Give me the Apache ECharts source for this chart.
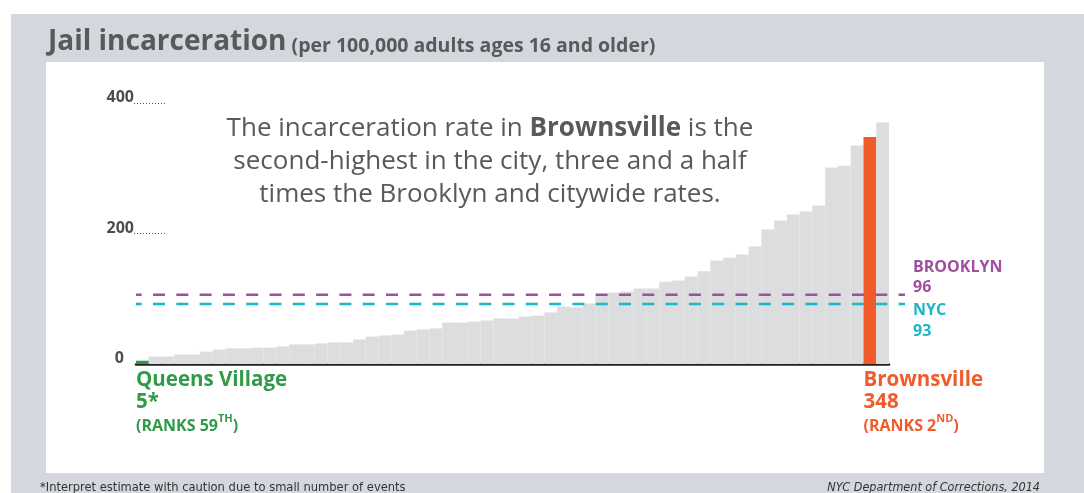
<!DOCTYPE html>
<html><head><meta charset="utf-8">
<script src="https://cdn.jsdelivr.net/npm/echarts@6/dist/echarts.min.js"></script>
<style>html,body{margin:0;padding:0;background:#fff}#c{width:1084px;height:493px}</style>
</head><body><div id="c"></div>
<script>
// ---- data ----
const rankLabels = ['59','58','57','56','55','54','53','52','51','50','49','48','47','46','45','44','43','42','41','40','39','38','37','36','35','34','33','32','31','30','29','28','27','26','25','24','23','22','21','20','19','18','17','16','15','14','13','12','11','10','9','8','7','6','5','4','3','2','1'];
const rates = [5,11.5,11.5,14.5,14.5,19,22,24,24,25,25,27,30,30,31.5,33,33,37.5,42,43.7,45,51,53,54.5,63.5,63.5,65,66.7,69.7,69.7,72.8,74,79,88,86.6,92.7,105,109.6,111,115.7,115.7,126,128,134,142,158.6,163,168,180,206,220,229,233.7,243,301,304,334.8,348,370];
const yTicks = [0, 200, 400];
const lineX = [0, 1];
const brooklynLevel = [106, 106];
const nycLevel = [92, 92];
const brooklynRate = 96;
const nycRate = 93;
const queensVillage = { rank: '59', name: 'Queens Village', shown: '5*', ordinal: 'TH' };
const brownsville = { rank: '2', name: 'Brownsville', shown: '348', ordinal: 'ND' };

// ---- styles ----
const GRAY_BG = '#d4d7de', BAR = '#dcdddf', TXT = '#58595b';
const GREEN = '#2f9a47', ORANGE = '#f15a29', PURPLE = '#a04f9f', CYAN = '#1db5c9';
const FONT = 'Open Sans';
const NARROW = "'DejaVu Sans Condensed', 'Liberation Sans', sans-serif";

function richFor(color) {
  return {
    n: { fontFamily: FONT, fontSize: 20.5, fontWeight: 'bold', color: color, lineHeight: 22 },
    r: { fontFamily: FONT, fontSize: 16, fontWeight: 'bold', color: color, lineHeight: 26 },
    s: { fontFamily: FONT, fontSize: 11, fontWeight: 'bold', color: color, lineHeight: 20, verticalAlign: 'top' }
  };
}
function highlightLabel(h, color) {
  return {
    show: true, position: [0, '100%'], align: 'left', verticalAlign: 'top', offset: [0, 5],
    formatter: '{n|' + h.name + '}\n{n|' + h.shown + '}\n{r|(RANKS ' + h.rank + '}{s|' + h.ordinal + '}{r|)}',
    rich: richFor(color)
  };
}
const barData = rates.map(function (v, i) {
  const rk = rankLabels[i];
  if (rk === queensVillage.rank) return { value: v, itemStyle: { color: GREEN }, label: highlightLabel(queensVillage, GREEN) };
  if (rk === brownsville.rank) return { value: v, itemStyle: { color: ORANGE }, label: highlightLabel(brownsville, ORANGE) };
  return { value: v };
});

const chart = echarts.init(document.getElementById('c'), null, { renderer: 'canvas' });
const yBase = { min: yTicks[0], max: yTicks[yTicks.length - 1], interval: yTicks[1] - yTicks[0] };
chart.setOption({
  backgroundColor: '#ffffff',
  animation: false,
  textStyle: { fontFamily: FONT },
  graphic: [
    { type: 'rect', z: -10, silent: true, shape: { x: 11, y: 14, width: 1073, height: 479 }, style: { fill: GRAY_BG } },
    { type: 'rect', z: -9, silent: true, shape: { x: 46, y: 62, width: 998, height: 411 }, style: { fill: '#ffffff' } },
    { type: 'text', x: 48, y: 56, style: {
        text: '{a|Jail incarceration}{b| (per 100,000 adults ages 16 and older)}',
        verticalAlign: 'bottom',
        rich: {
          a: { fontFamily: FONT, fontSize: 28, fontWeight: 'bold', fill: TXT, lineHeight: 30, verticalAlign: 'bottom' },
          b: { fontFamily: FONT, fontSize: 19.5, fontWeight: 'bold', fill: TXT, lineHeight: 24, verticalAlign: 'bottom' }
        } } },
    { type: 'text', x: 490, y: 112, style: {
        text: '{a|The incarceration rate in }{b|Brownsville}{a| is the}\n{a|second-highest in the city, three and a half}\n{a|times the Brooklyn and citywide rates.}',
        align: 'center', verticalAlign: 'top',
        rich: {
          a: { fontFamily: FONT, fontSize: 26, fill: TXT, lineHeight: 33 },
          b: { fontFamily: FONT, fontSize: 26, fontWeight: 'bold', fill: TXT, lineHeight: 33 }
        } } },
    { type: 'text', x: 40, y: 481, style: { text: '*Interpret estimate with caution due to small number of events',
        fontFamily: NARROW, fontSize: 12.8, fill: '#333333', verticalAlign: 'top' } },
    { type: 'text', x: 1040, y: 481, style: { text: 'NYC Department of Corrections, 2014',
        fontFamily: NARROW, fontSize: 12.5, fontStyle: 'italic', fill: '#333333', align: 'right', verticalAlign: 'top' } }
  ],
  grid: [
    { left: 136, top: 103, width: 753, height: 261 },
    { left: 136, top: 103, width: 769, height: 261 },
    { left: 134, top: 103, width: 32, height: 261 }
  ],
  xAxis: [
    { type: 'category', gridIndex: 0, data: rankLabels, boundaryGap: true,
      axisLine: { show: true, lineStyle: { color: '#231f20', width: 2.5 } },
      axisTick: { show: false }, axisLabel: { show: false }, splitLine: { show: false } },
    { type: 'value', gridIndex: 1, min: 0, max: 1, show: false },
    { type: 'value', gridIndex: 2, min: 0, max: 1, show: false }
  ],
  yAxis: [
    Object.assign({ type: 'value', gridIndex: 0,
      axisLine: { show: false }, axisTick: { show: false }, splitLine: { show: false },
      axisLabel: { show: true, margin: 2, verticalAlign: 'bottom', lineHeight: 11,
        formatter: function (v) { return v === 0 ? '{z|0}' : '{t|' + v + '}'; },
        rich: {
          t: { fontFamily: FONT, fontSize: 16, fontWeight: 'bold', color: '#4d4d4f', lineHeight: 11 },
          z: { fontFamily: FONT, fontSize: 16, fontWeight: 'bold', color: '#4d4d4f', lineHeight: 11, padding: [0, 10, 1, 0] }
        } } }, yBase),
    Object.assign({ type: 'value', gridIndex: 1, show: false }, yBase),
    Object.assign({ type: 'value', gridIndex: 2, axisLine: { show: false }, axisTick: { show: false }, axisLabel: { show: false },
      splitLine: { show: true, showMinLine: false, lineStyle: { color: '#555', width: 1, type: [1, 2] } } }, yBase)
  ],
  series: [
    { type: 'bar', xAxisIndex: 0, yAxisIndex: 0, data: barData, barCategoryGap: 0, barGap: 0,
      itemStyle: { color: BAR }, z: 2, silent: true },
    { type: 'line', xAxisIndex: 1, yAxisIndex: 1, data: lineX.map(function (x, i) { return [x, brooklynLevel[i]]; }),
      symbol: 'none', z: 5, silent: true,
      lineStyle: { color: PURPLE, width: 2.5, type: [12, 11.3], dashOffset: 6.3 },
      endLabel: { show: true, distance: 8, align: 'left', verticalAlign: 'bottom', offset: [0, 3],
        formatter: '{t|BROOKLYN}\n{t|' + brooklynRate + '}',
        rich: { t: { fontFamily: FONT, fontSize: 16, fontWeight: 'bold', color: PURPLE, lineHeight: 20 } } } },
    { type: 'line', xAxisIndex: 1, yAxisIndex: 1, data: lineX.map(function (x, i) { return [x, nycLevel[i]]; }),
      symbol: 'none', z: 5, silent: true,
      lineStyle: { color: CYAN, width: 2.5, type: [12, 11.3], dashOffset: 6.3 },
      endLabel: { show: true, distance: 8, align: 'left', verticalAlign: 'top', offset: [0, -4],
        formatter: '{t|NYC}\n{t|' + nycRate + '}',
        rich: { t: { fontFamily: FONT, fontSize: 16, fontWeight: 'bold', color: CYAN, lineHeight: 21 } } } }
  ]
});
</script></body></html>
